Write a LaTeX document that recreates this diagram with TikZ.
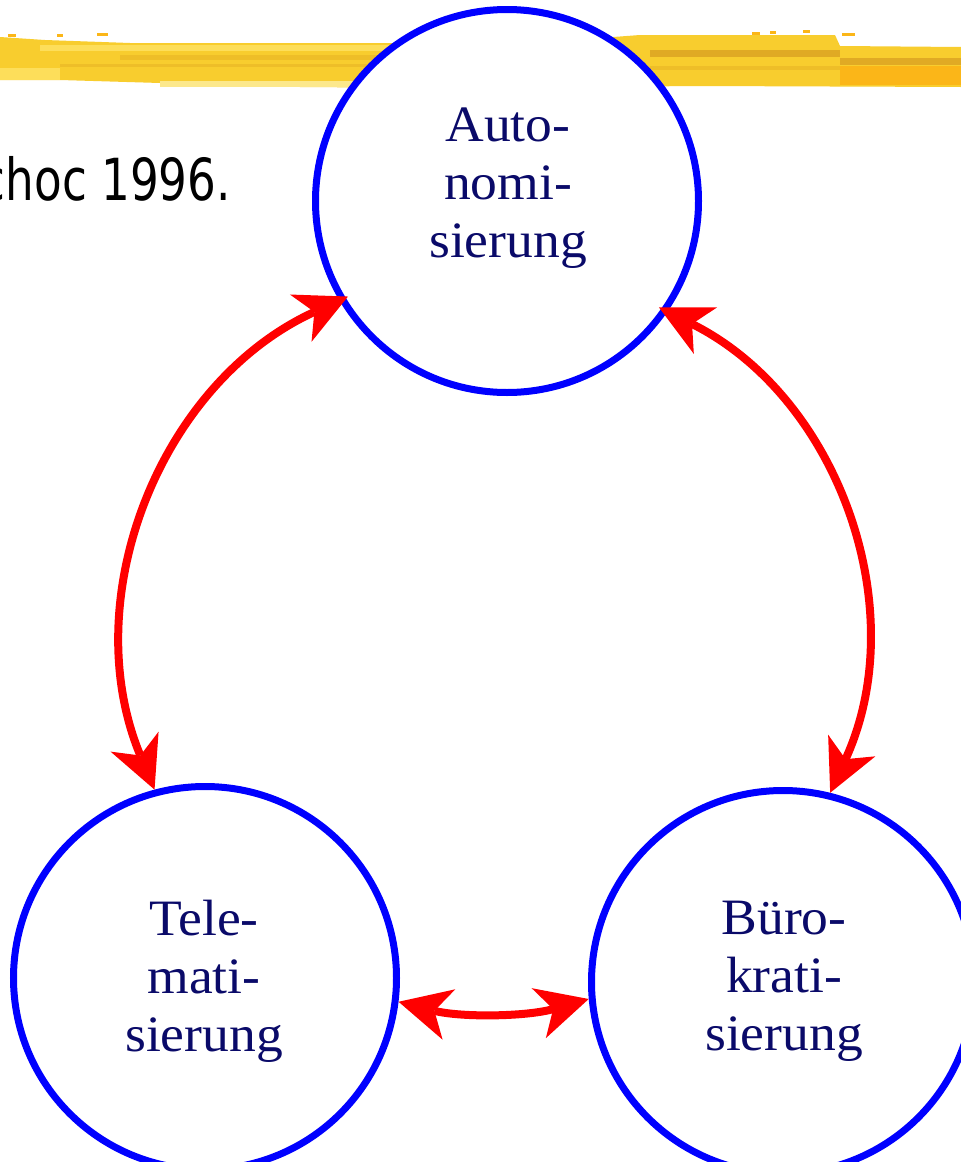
\documentclass[tikz,border=0pt]{standalone}
\usepackage{fontspec}
\setmainfont{Liberation Serif}
\newfontfamily\lblfont[FakeStretch=1.05]{Liberation Serif}
\newfontfamily\notefont[FakeStretch=0.78]{DejaVu Sans}
\usetikzlibrary{arrows.meta}
\definecolor{ringblue}{RGB}{0,0,255}
\definecolor{linkred}{RGB}{255,0,0}
\definecolor{labelnavy}{RGB}{10,10,105}
\definecolor{brushA}{RGB}{248,205,46}
\definecolor{brushLight}{RGB}{253,222,90}
\definecolor{brushPale}{RGB}{252,232,140}
\definecolor{brushMid}{RGB}{238,190,40}
\definecolor{brushDeep}{RGB}{224,170,36}
\definecolor{brushOrange}{RGB}{251,182,24}
\begin{document}
\begin{tikzpicture}[x=1pt,y=1pt,
  ring/.style={circle, draw=ringblue, line width=7pt, fill=white,
               minimum size=383pt, inner sep=0pt},
  lbl/.style={align=center, text=labelnavy, inner sep=0pt,
              font=\lblfont\fontsize{51}{58}\selectfont},
  link/.style={draw=linkred, line width=8pt,
               >={Stealth[length=52pt,width=52pt,inset=15pt,line width=0pt]}, <->}]
\useasboundingbox (0,0) rectangle (961,-1162);
\clip (0,0) rectangle (961,-1162);
\fill[white] (0,0) rectangle (961,-1162);

% yellow brush stroke across the top
\fill[brushA] (0,-37) -- (45,-40) -- (130,-43) -- (400,-43) -- (600,-38) -- (640,-35)
  -- (835,-35) -- (840,-46) -- (961,-47) -- (961,-87) -- (700,-86) -- (450,-88)
  -- (300,-87) -- (160,-83) -- (60,-80) -- (0,-80) -- cycle;
\fill[brushLight] (40,-45) rectangle (420,-51);
\fill[brushMid] (120,-55) rectangle (600,-60);
\fill[brushMid] (60,-64) rectangle (500,-67);
\fill[brushDeep] (650,-50) rectangle (840,-57);
\fill[brushMid] (650,-66) rectangle (840,-70);
\fill[brushDeep] (840,-58) rectangle (961,-65);
\fill[brushOrange] (840,-66) rectangle (961,-85);
\fill[brushPale] (160,-81) rectangle (480,-87);
\fill[brushLight] (0,-68) rectangle (60,-80);
\fill[brushOrange] (8,-34) rectangle (16,-37);
\fill[brushOrange] (57,-34) rectangle (63,-37);
\fill[brushOrange] (97,-33) rectangle (108,-36);
\fill[brushOrange] (752,-32) rectangle (760,-35);
\fill[brushOrange] (770,-31) rectangle (776,-34);
\fill[brushOrange] (803,-30) rectangle (810,-33);
\fill[brushOrange] (842,-33) rectangle (855,-36);

% citation fragment
\node[anchor=base east, inner sep=0pt, font=\notefont\fontsize{58}{60}\selectfont]
  (cite) at (231,-200) {choc 1996.};

% the three circles
\node[ring, outer sep=-6pt] (T) at (507,-201) {};
\node[ring] (L) at (205,-978) {};
\node[ring] (B) at (783,-982) {};

\node[lbl] (Tl) at (508,-188) {Auto-\\nomi-\\sierung};
\node[lbl] (Ll) at (204,-981) {Tele-\\mati-\\sierung};
\node[lbl] (Bl) at (784,-981) {Büro-\\krati-\\sierung};

% double-headed connectors
\draw[link] (L.105) to[bend left=44] (T.211);
\draw[link] (T.325) to[bend left=44] (B.76);
\draw[link] (L.-7) to[bend right=15, looseness=0.87] (B.185);
\end{tikzpicture}
\end{document}
